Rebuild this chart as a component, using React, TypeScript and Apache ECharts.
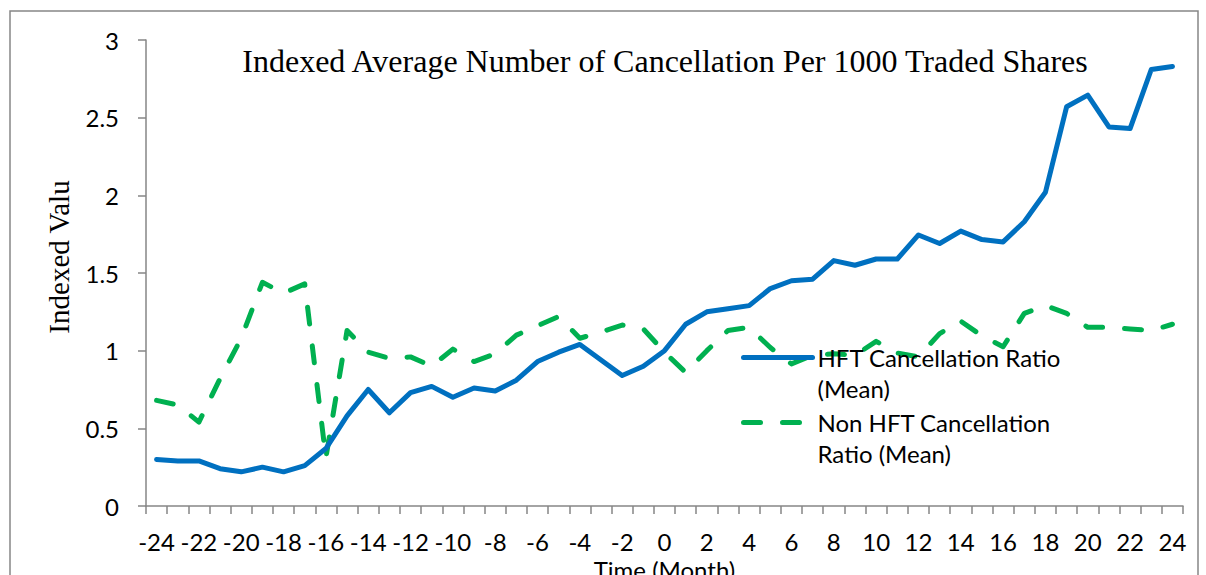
import React, { useEffect, useRef } from "react";
import * as echarts from "echarts";

const months: string[] = [
  "-24","-23","-22","-21","-20","-19","-18","-17","-16","-15","-14","-13","-12",
  "-11","-10","-9","-8","-7","-6","-5","-4","-3","-2","-1","0","1","2","3","4",
  "5","6","7","8","9","10","11","12","13","14","15","16","17","18","19","20",
  "21","22","23","24",
];

const hftRatio: number[] = [
  0.30, 0.29, 0.29, 0.24, 0.22, 0.25, 0.22, 0.26, 0.37, 0.58, 0.75, 0.60, 0.73,
  0.77, 0.70, 0.76, 0.74, 0.81, 0.93, 0.99, 1.04, 0.94, 0.84, 0.90, 1.00, 1.17,
  1.25, 1.27, 1.29, 1.40, 1.45, 1.46, 1.58, 1.55, 1.59, 1.59, 1.745, 1.69, 1.77,
  1.715, 1.70, 1.83, 2.02, 2.57, 2.645, 2.44, 2.43, 2.81, 2.83,
];

const nonHftRatio: number[] = [
  0.68, 0.65, 0.54, 0.82, 1.08, 1.44, 1.37, 1.43, 0.31, 1.13, 0.99, 0.95, 0.96,
  0.90, 1.01, 0.93, 0.98, 1.10, 1.16, 1.22, 1.08, 1.12, 1.165, 1.14, 0.99, 0.86,
  1.00, 1.13, 1.15, 1.02, 0.915, 0.97, 0.98, 0.97, 1.06, 0.985, 0.96, 1.11, 1.19,
  1.095, 1.025, 1.24, 1.29, 1.24, 1.15, 1.15, 1.14, 1.13, 1.17,
];

const seriesNames = ["HFT Cancellation Ratio (Mean)", "Non HFT Cancellation Ratio (Mean)"];
const legendLabels = ["\nHFT Cancellation Ratio\n(Mean)", "\nNon HFT Cancellation\nRatio (Mean)"];
const titleText = "Indexed Average Number of Cancellation Per 1000 Traded Shares";
const yAxisTitle = "Indexed Valu";
const xAxisTitle = "Time (Month)";

const AXIS_COLOR = "#868686";
const BLUE = "#0070C0";
const GREEN = "#00B050";
const SANS = "Lato, 'Open Sans', sans-serif";
const SERIF = "'Liberation Serif', 'Times New Roman', serif";

export default function App() {
  const ref = useRef<HTMLDivElement>(null);

  useEffect(() => {
    if (!ref.current) return;
    const chart = echarts.init(ref.current, undefined, { renderer: "svg" });
    const legendText = {
      fontFamily: SANS,
      fontSize: 24,
      color: "#000",
      lineHeight: 31,
    };
    const hiddenSymbol = { color: "rgba(0,0,0,0)", borderWidth: 0, borderColor: "rgba(0,0,0,0)", opacity: 0 };
    const option: any = {
      animation: false,
      backgroundColor: "#fff",
      grid: { left: 146, right: 23, top: 40, bottom: 69, containLabel: false, outerBoundsMode: "none" },
      legend: [
        {
          data: [seriesNames[0]],
          orient: "vertical",
          left: 741,
          top: 311,
          padding: 0,
          itemWidth: 69,
          itemHeight: 12,
          itemGap: 0,
          formatter: () => legendLabels[0],
          textStyle: legendText,
          itemStyle: hiddenSymbol,
          lineStyle: { width: 5, color: BLUE, cap: "round" },
        },
        {
          data: [seriesNames[1]],
          orient: "vertical",
          left: 741,
          top: 376,
          padding: 0,
          itemWidth: 69,
          itemHeight: 12,
          itemGap: 0,
          formatter: () => legendLabels[1],
          textStyle: legendText,
          itemStyle: hiddenSymbol,
          lineStyle: { width: 5, color: GREEN, type: [17, 22], cap: "round" },
        },
      ],
      xAxis: {
        type: "category",
        data: months,
        boundaryGap: true,
        axisLine: { show: true, lineStyle: { color: AXIS_COLOR, width: 1.5 } },
        axisTick: { show: true, interval: 0, length: 8, lineStyle: { color: AXIS_COLOR, width: 1.5 } },
        axisLabel: { interval: 1, color: "#000", fontFamily: SANS, fontSize: 24, margin: 23 },
        splitLine: { show: false },
        name: xAxisTitle,
        nameLocation: "middle",
        nameGap: 49,
        nameTextStyle: { fontFamily: SANS, fontSize: 24, color: "#000" },
      },
      yAxis: {
        type: "value",
        min: 0,
        max: 3,
        interval: 0.5,
        axisLine: { show: true, lineStyle: { color: AXIS_COLOR, width: 1.5 } },
        axisTick: { show: true, length: 8, lineStyle: { color: AXIS_COLOR, width: 1.5 } },
        axisLabel: { color: "#000", fontFamily: SANS, fontSize: 24, margin: 27 },
        splitLine: { show: false },
      },
      graphic: [
        {
          type: "rect",
          shape: { x: 10, y: 11, width: 1188, height: 620 },
          style: { fill: "none", stroke: AXIS_COLOR, lineWidth: 1.5 },
          silent: true,
          z: -10,
        },
        {
          type: "text",
          x: 665,
          y: 61,
          style: {
            text: titleText,
            fontFamily: SERIF,
            fontSize: 32,
            fill: "#000",
            align: "center",
            verticalAlign: "middle",
          },
        },
        {
          type: "text",
          x: 59,
          y: 257,
          rotation: Math.PI / 2,
          style: {
            text: yAxisTitle,
            fontFamily: SERIF,
            fontSize: 29,
            fill: "#000",
            align: "center",
            verticalAlign: "middle",
          },
        },
      ],
      series: [
        {
          name: seriesNames[0],
          type: "line",
          data: hftRatio,
          symbol: "none",
          smooth: false,
          color: BLUE,
          lineStyle: { color: BLUE, width: 5, join: "round", cap: "round" },
          z: 3,
        },
        {
          name: seriesNames[1],
          type: "line",
          data: nonHftRatio,
          symbol: "none",
          smooth: false,
          color: GREEN,
          lineStyle: { color: GREEN, width: 5, type: [17, 22], cap: "round", join: "round" },
          z: 2,
        },
      ],
    };
    chart.setOption(option);
    return () => chart.dispose();
  }, []);

  return (
    <div
      ref={ref}
      style={{ position: "absolute", left: 0, top: 0, width: 1206, height: 575 }}
    />
  );
}
